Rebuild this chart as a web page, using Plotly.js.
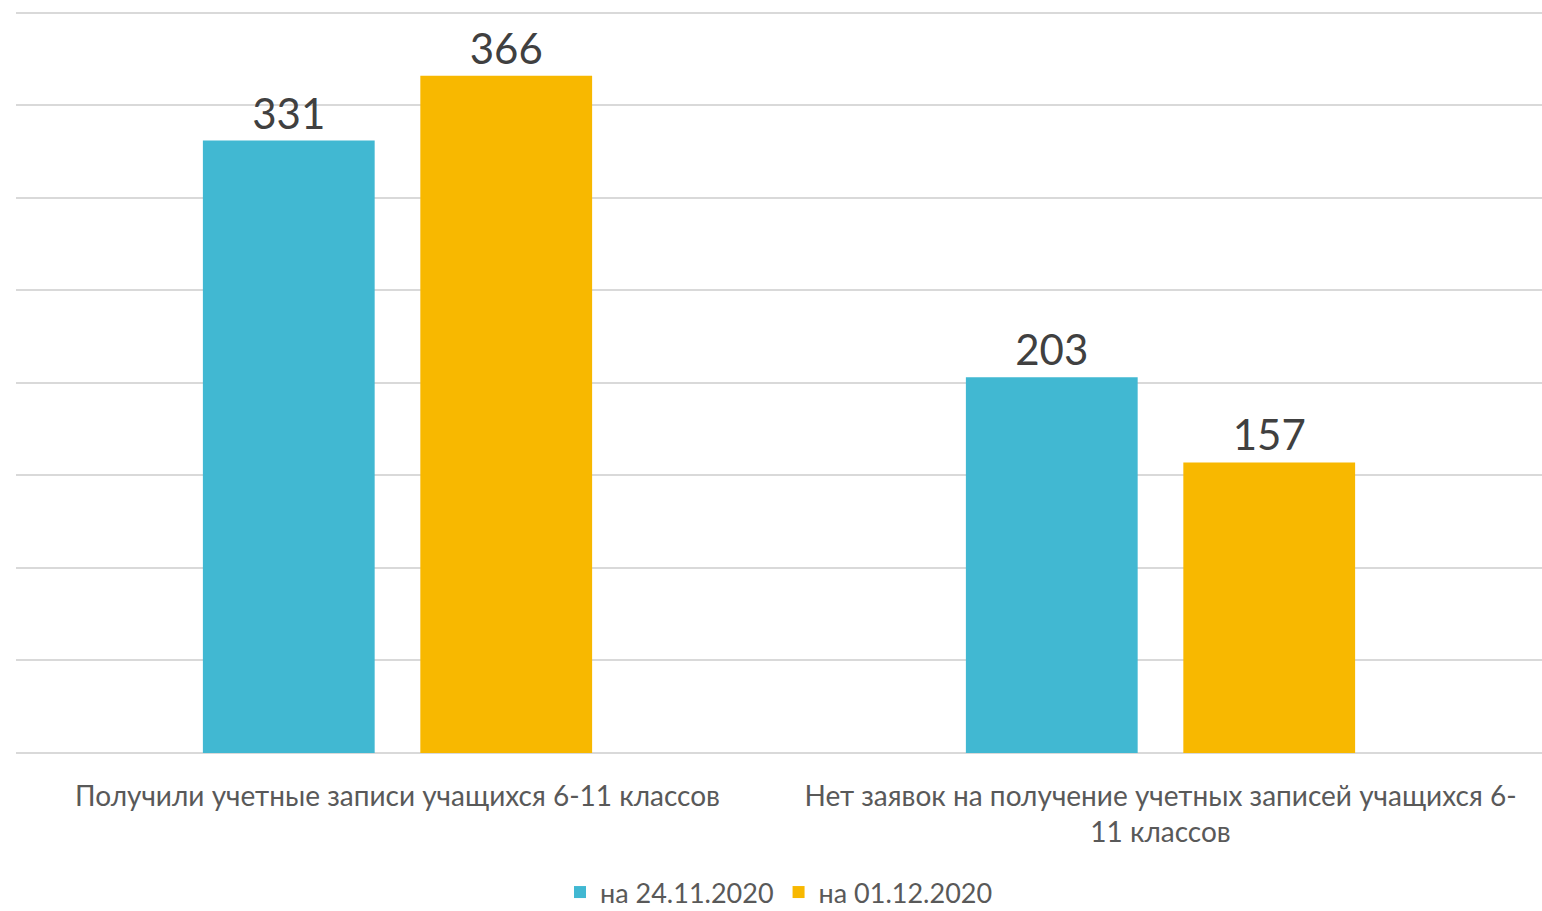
<!DOCTYPE html>
<html>
<head>
<meta charset="utf-8">
<script src="https://cdn.plot.ly/plotly-3.0.1.min.js"></script>
<style>html,body{margin:0;padding:0;background:#fff}#chart{width:1542px;height:911px}</style>
</head>
<body>
<div id="chart"></div>
<script>
const categories = ["Получили учетные записи учащихся 6-11 классов", "Нет заявок на получение учетных записей учащихся 6-<br>11 классов"];
const seriesNames = ["на 24.11.2020", "на 01.12.2020"];
const values2411 = [331, 203];
const values0112 = [366, 157];
const colors = ["#41B8D2", "#F8B800"];
const font = "Lato, 'Open Sans', sans-serif";
const traces = [values2411, values0112].map((v, i) => ({
  type: "bar",
  name: seriesNames[i],
  x: categories,
  y: v,
  marker: {color: colors[i]},
  text: v.map(String),
  textposition: "outside",
  cliponaxis: false,
  textfont: {size: 42, color: "#404040", family: font},
  hoverinfo: "none"
}));
const layout = {
  width: 1542, height: 911,
  margin: {l: 16, r: 0, t: 11, b: 158, autoexpand: false},
  paper_bgcolor: "#fff", plot_bgcolor: "#fff",
  barmode: "group", bargap: 0.43, bargroupgap: 0.21,
  font: {family: font, color: "#595959"},
  xaxis: {tickfont: {size: 28, color: "#595959"}, showline: false, ticks: "", ticklabelstandoff: 24, automargin: false},
  yaxis: {range: [0, 401], dtick: 50, showticklabels: false, gridcolor: "#D9D9D9", gridwidth: 2, zeroline: true, zerolinecolor: "#D9D9D9", zerolinewidth: 2, fixedrange: true, automargin: false},
  showlegend: true,
  legend: {orientation: "h", x: 0.5, xanchor: "center", y: -0.188, yanchor: "middle", font: {size: 27, color: "#595959"}, itemwidth: 30, traceorder: "normal"}
};
Plotly.newPlot("chart", traces, layout, {displayModeBar: false, staticPlot: true});
</script>
</body>
</html>
